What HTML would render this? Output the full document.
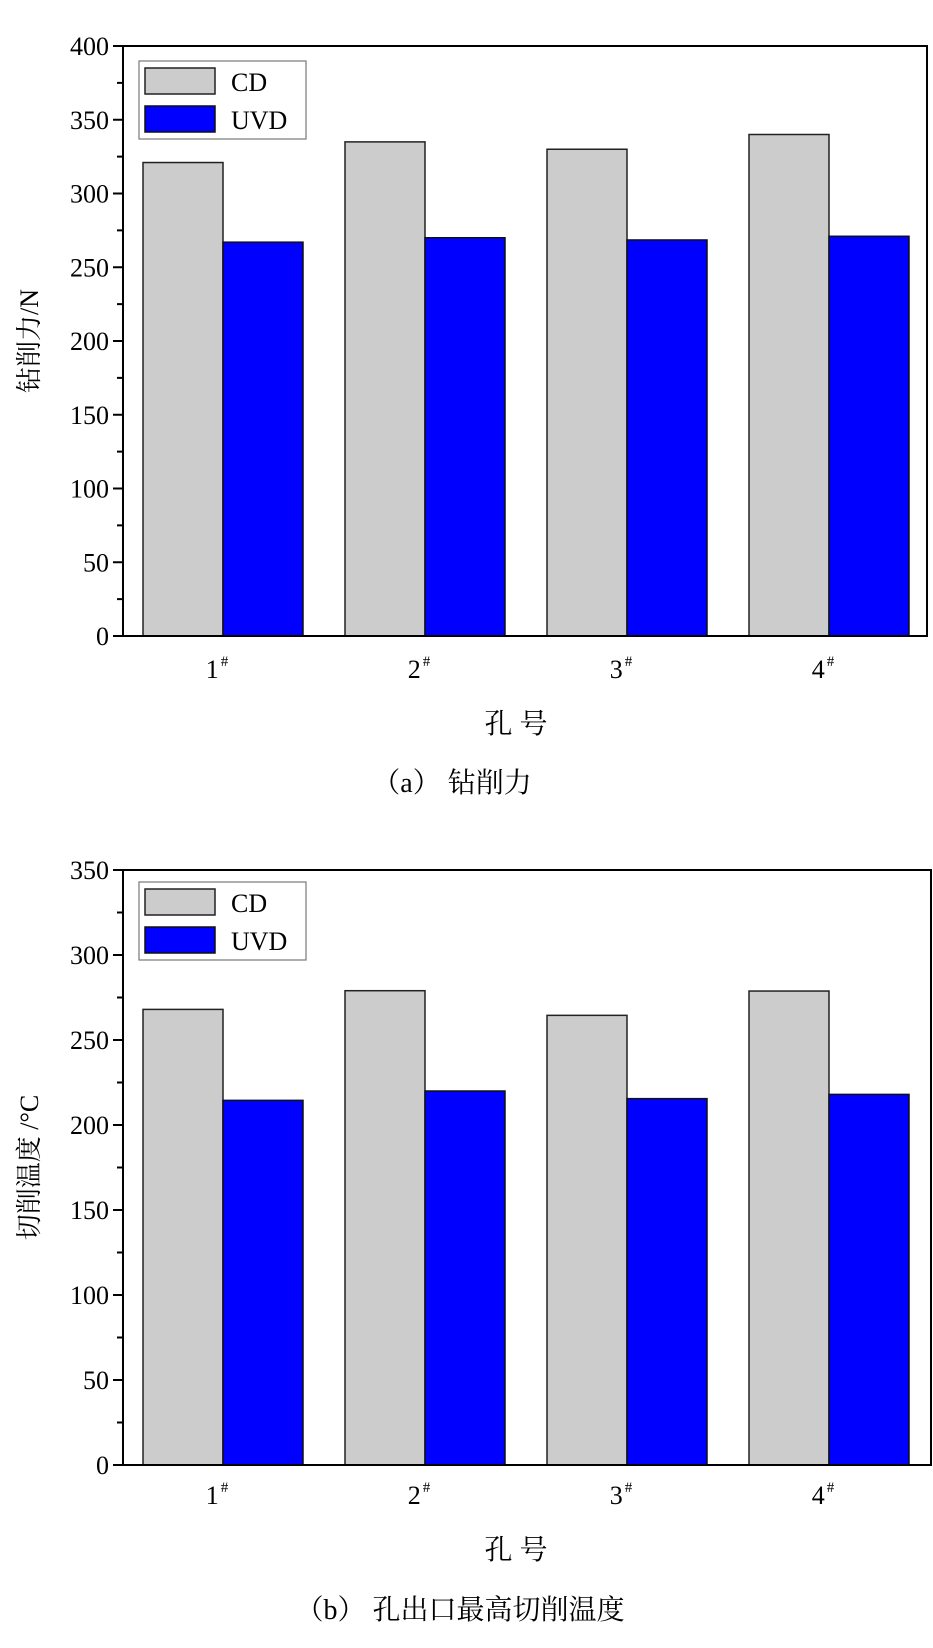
<!DOCTYPE html>
<html><head><meta charset="utf-8">
<style>
html,body{margin:0;padding:0;background:#fff;}
svg{display:block;font-family:"Liberation Serif","Noto Serif CJK SC",serif;}
</style></head>
<body>
<svg id="fig" width="933" height="1648" viewBox="0 0 933 1648"></svg>
<script>
const categories = ["1","2","3","4"];
const forceCD = [321, 335, 330, 340];
const forceUVD = [267, 270, 268.5, 271];
const forceTicks = [0,50,100,150,200,250,300,350,400];
const tempCD = [268, 279, 264.5, 278.8];
const tempUVD = [214.5, 220, 215.5, 218];
const tempTicks = [0,50,100,150,200,250,300,350];

const NS = "http://www.w3.org/2000/svg";
const svg = document.getElementById('fig');
function mk(tag, attrs, parent){
  const e = document.createElementNS(NS, tag);
  for (const k in attrs) e.setAttribute(k, attrs[k]);
  (parent||svg).appendChild(e);
  return e;
}

function drawChart(cfg){
  const g = mk('g', {});
  
  
  const L=cfg.left, R=cfg.right, T=cfg.top, B=cfg.bottom;
  const ymax = cfg.ticks[cfg.ticks.length-1];
  const y = v => B - (v/ymax)*(B-T);
  const x = i => 122 + (i+0.5)*(930-122)/4; // domain 0.5..4.5
  const bw = 80;
  // bars
  categories.forEach((c,i)=>{
    const cx = x(i);
    const b1 = mk('rect',{x:cx-bw, y:y(cfg.cd[i]), width:bw, height:B-y(cfg.cd[i]), fill:'#cccccc', stroke:'#222', 'stroke-width':1.5}, g);
    
    
    const b2 = mk('rect',{x:cx, y:y(cfg.uvd[i]), width:bw, height:B-y(cfg.uvd[i]), fill:'#0000ff', stroke:'#111', 'stroke-width':1.5}, g);
    
    
    const t = mk('text',{x:cx-6, y:cfg.xlabY, 'font-size':26, 'text-anchor':'middle'}, g);
    
    
    t.textContent = c;
    const s = mk('tspan',{dx:2, dy:-12, 'font-size':15}, t);
    s.textContent = '#';
  });
  // frame
  const fr = mk('rect',{x:L, y:T, width:R-L, height:B-T, fill:'none', stroke:'#000', 'stroke-width':2}, g);
  
  
  // ticks
  const step = cfg.ticks[1]-cfg.ticks[0];
  cfg.ticks.forEach((v,k)=>{
    mk('line',{x1:L-10, x2:L, y1:y(v), y2:y(v), stroke:'#000','stroke-width':2}, g);
    if (k < cfg.ticks.length-1) mk('line',{x1:L-6, x2:L, y1:y(v+step/2), y2:y(v+step/2), stroke:'#000','stroke-width':2}, g);
    const t = mk('text',{x:L-14, y:y(v)+9, 'font-size':26, 'text-anchor':'end'}, g);
    
    
    t.textContent = v;
  });
  // legend
  const lg = mk('g',{}, g);
  
  
  mk('rect',{x:139, y:cfg.legY, width:167, height:78, fill:'#fff', stroke:'#777','stroke-width':1.2}, lg);
  mk('rect',{x:145, y:cfg.legY+7, width:70, height:26, fill:'#cccccc', stroke:'#222','stroke-width':1.5}, lg);
  mk('rect',{x:145, y:cfg.legY+45, width:70, height:26, fill:'#0000ff', stroke:'#111','stroke-width':1.5}, lg);
  const l1 = mk('text',{x:231, y:cfg.legY+30, 'font-size':26}, lg); l1.textContent='CD';
  const l2 = mk('text',{x:231, y:cfg.legY+68, 'font-size':26}, lg); l2.textContent='UVD';
  // titles
  const yt = mk('text',{x:0, y:0, 'font-size':26, 'text-anchor':'middle', transform:`translate(38,${(T+B)/2}) rotate(-90)`}, g);
  
  
  yt.textContent = cfg.ytitle;
  const xt = mk('text',{x:516, y:cfg.xtY, 'font-size':28, 'text-anchor':'middle'}, g);
  
  
  xt.textContent = '孔 号';
  const cp = mk('text',{x:cfg.capX, y:cfg.capY, 'font-size':28, 'text-anchor':'middle'}, g);
  
  
  cp.textContent = cfg.caption;
}

drawChart({name:'chart-drilling-force', left:123, right:927, top:46, bottom:636, ticks:forceTicks, cd:forceCD, uvd:forceUVD,
  legY:61, xlabY:678, xtY:733, capY:792, capX:452, ytitle:'钻削力/N', caption:'（a）  钻削力'});
drawChart({name:'chart-cutting-temperature', left:123, right:931, top:870, bottom:1465, ticks:tempTicks, cd:tempCD, uvd:tempUVD,
  legY:882, xlabY:1504, xtY:1559, capY:1619, capX:460, ytitle:'切削温度 /°C', caption:'（b）  孔出口最高切削温度'});
</script>
</body></html>
